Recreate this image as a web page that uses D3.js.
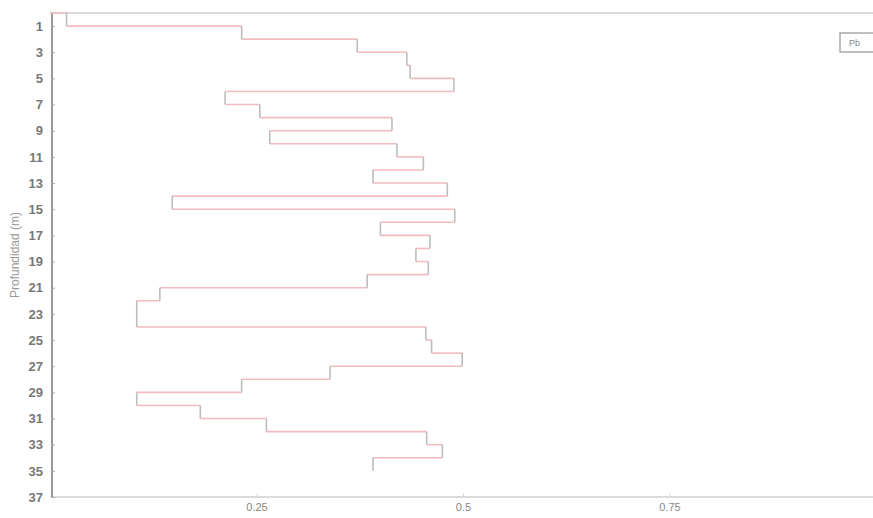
<!DOCTYPE html>
<html>
<head>
<meta charset="utf-8">
<script src="https://cdn.jsdelivr.net/npm/d3@7"></script>
<style>
  html, body { margin: 0; padding: 0; background: #fff; }
  svg { display: block; }
</style>
</head>
<body>
<svg id="chart" width="873" height="518"></svg>
<script>
// Depth intervals (m): each value holds from depthStart[i] to depthStart[i]+1
const depthStart = [0,1,2,3,4,5,6,7,8,9,10,11,12,13,14,15,16,17,18,19,20,21,22,23,24,25,26,27,28,29,30,31,32,33,34];
const seriesValues = [0.02,0.232,0.372,0.432,0.436,0.489,0.212,0.254,0.414,0.266,0.42,0.452,0.391,0.481,0.148,0.49,0.40,0.46,0.443,0.458,0.384,0.133,0.105,0.105,0.455,0.462,0.499,0.339,0.232,0.105,0.182,0.262,0.456,0.475,0.391];
const yTickLabels = [1,3,5,7,9,11,13,15,17,19,21,23,25,27,29,31,33,35,37];
const xTickLabels = [0.25,0.5,0.75];
const seriesName = "Pb";
const yAxisTitle = "Profundidad (m)";

const svg = d3.select("#chart");
const x = d3.scaleLinear().domain([0, 1]).range([50, 876]);
const y = d3.scaleLinear().domain([0, 37]).range([13, 497]);

// frame lines
svg.append("line").attr("x1", x(0)).attr("x2", 873).attr("y1", y(0)).attr("y2", y(0))
  .attr("stroke", "#d0d0d0").attr("stroke-width", 1.5);

// x axis
const xAxis = d3.axisBottom(x).tickValues(xTickLabels).tickSize(-4).tickPadding(8)
  .tickFormat(d => String(d));
const gx = svg.append("g").attr("transform", `translate(0,${y(37)})`).call(xAxis);
gx.select(".domain").attr("stroke", "#cfcfcf").attr("stroke-width", 1.5).attr("d", `M${x(0)},0H873`);
gx.selectAll(".tick line").attr("stroke", "#ddd");
gx.selectAll(".tick text").attr("fill", "#888").attr("font-family", "Liberation Sans, Arial, sans-serif")
  .attr("font-size", 11).attr("dy", "0.55em");

// y axis
const yAxis = d3.axisLeft(y).tickValues(yTickLabels).tickSize(-3).tickPadding(9).tickFormat(d => String(d));
const gy = svg.append("g").attr("transform", `translate(${x(0) + 2},0)`).call(yAxis);
gy.select(".domain").attr("stroke", "#999").attr("stroke-width", 2).attr("d", `M0,${y(0)}V${y(37)}`);
gy.selectAll(".tick line").attr("stroke", "#aaa");
gy.selectAll(".tick text").attr("fill", "#777").attr("font-family", "Liberation Sans, Arial, sans-serif")
  .attr("font-size", 13).attr("font-weight", "bold");

// y axis title
svg.append("text").attr("transform", `translate(19,${(y(0) + y(37)) / 2}) rotate(-90)`)
  .attr("text-anchor", "middle").attr("fill", "#999")
  .attr("font-family", "Liberation Sans, Arial, sans-serif").attr("font-size", 12)
  .text(yAxisTitle);

// step curve: horizontal segments at boundaries (pink), vertical segments per interval (gray)
const horiz = [];
const vert = [];
seriesValues.forEach((v, i) => {
  const d0 = depthStart[i];
  const prev = i === 0 ? 0 : seriesValues[i - 1];
  horiz.push({ x1: prev, x2: v, d: d0 });
  vert.push({ v: v, d0: d0, d1: d0 + 1 });
});
svg.append("g").selectAll("line").data(horiz).join("line")
  .attr("x1", d => x(d.x1)).attr("x2", d => x(d.x2))
  .attr("y1", d => y(d.d)).attr("y2", d => y(d.d))
  .attr("stroke", "#f2bcc1").attr("stroke-width", 1.6);
svg.append("g").selectAll("line").data(vert).join("line")
  .attr("x1", d => x(d.v)).attr("x2", d => x(d.v))
  .attr("y1", d => y(d.d0)).attr("y2", d => y(d.d1))
  .attr("stroke", "#bdbdbd").attr("stroke-width", 1.6);

// legend
const lg = svg.append("g").attr("transform", "translate(840,33)");
lg.append("rect").attr("x", 0).attr("y", 0).attr("width", 40).attr("height", 19)
  .attr("fill", "#fff").attr("stroke", "#aaa").attr("stroke-width", 1.5);
lg.append("text").attr("x", 9).attr("y", 13).attr("fill", "#888")
  .attr("font-family", "Liberation Sans, Arial, sans-serif").attr("font-size", 9).text(seriesName);
</script>
</body>
</html>
